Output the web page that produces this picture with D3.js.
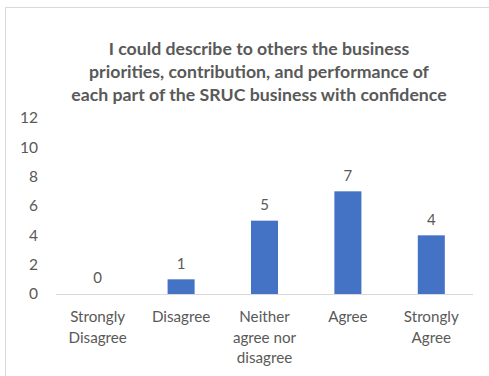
<!DOCTYPE html>
<html>
<head>
<meta charset="utf-8">
<script src="https://cdn.jsdelivr.net/npm/d3@7"></script>
<style>
  html, body { margin: 0; padding: 0; background: #fff; }
  svg { display: block; }
  text { font-family: Lato, "Open Sans", "Liberation Sans", sans-serif; fill: #595959; }
</style>
</head>
<body>
<svg id="chart" width="489" height="376"></svg>
<script>
// Survey responses per answer option
const categories = [
  ["Strongly", "Disagree"],
  ["Disagree"],
  ["Neither", "agree nor", "disagree"],
  ["Agree"],
  ["Strongly", "Agree"]
];
const values = [0, 1, 5, 7, 4];
const yTicks = [0, 2, 4, 6, 8, 10, 12];
const titleLines = [
  "I could describe to others the business",
  "priorities, contribution, and performance of",
  "each part of the SRUC business with confidence"
];

const svg = d3.select("#chart");
const W = 489, H = 376;

// outer chart frame
svg.append("rect")
  .attr("x", 5.5).attr("y", 7.5)
  .attr("width", W + 10).attr("height", H + 10)
  .attr("fill", "#fff").attr("stroke", "#d9d9d9").attr("stroke-width", 1);

const plot = { left: 56, right: 473, top: 118, bottom: 294 };

const x = d3.scaleBand()
  .domain(d3.range(values.length))
  .range([plot.left, plot.right])
  .paddingInner(0.676)
  .paddingOuter(0.338);

const y = d3.scaleLinear().domain([0, 12]).range([plot.bottom, plot.top]);

// title
svg.append("g").selectAll("text")
  .data(titleLines)
  .join("text")
  .attr("x", 259)
  .attr("y", (d, i) => 49 + i * 23)
  .attr("dy", "0.35em")
  .attr("text-anchor", "middle")
  .style("font-size", "17.7px")
  .style("font-weight", "bold")
  .text(d => d);

// y axis labels (no axis line)
const yAxis = d3.axisLeft(y).tickValues(yTicks).tickSize(0).tickPadding(0);
const yg = svg.append("g").attr("transform", "translate(38,0)").call(yAxis);
yg.select(".domain").remove();
yg.selectAll("text")
  .attr("fill", "#595959")
  .style("font-family", "Lato, 'Open Sans', sans-serif")
  .style("font-size", "15.5px");

// bars
svg.append("g").selectAll("rect")
  .data(values)
  .join("rect")
  .attr("x", (d, i) => x(i))
  .attr("y", d => y(d))
  .attr("width", x.bandwidth())
  .attr("height", d => y(0) - y(d))
  .attr("fill", "#4472c4");

// category axis baseline
svg.append("line")
  .attr("x1", plot.left).attr("x2", plot.right)
  .attr("y1", plot.bottom + 0.5).attr("y2", plot.bottom + 0.5)
  .attr("stroke", "#d9d9d9").attr("stroke-width", 1);

// value labels
svg.append("g").selectAll("text")
  .data(values)
  .join("text")
  .attr("x", (d, i) => x(i) + x.bandwidth() / 2)
  .attr("y", d => y(d) - 16)
  .attr("dy", "0.35em")
  .attr("text-anchor", "middle")
  .style("font-size", "15px")
  .text(d => d);

// category labels
const cat = svg.append("g").selectAll("text")
  .data(categories)
  .join("text")
  .attr("text-anchor", "middle")
  .style("font-size", "15.2px");
cat.selectAll("tspan")
  .data((d, i) => d.map(t => ({ t, i })))
  .join("tspan")
  .attr("x", d => x(d.i) + x.bandwidth() / 2)
  .attr("y", (d, j) => 317 + j * 20.5)
  .attr("dy", "0.35em")
  .text(d => d.t);
</script>
</body>
</html>
